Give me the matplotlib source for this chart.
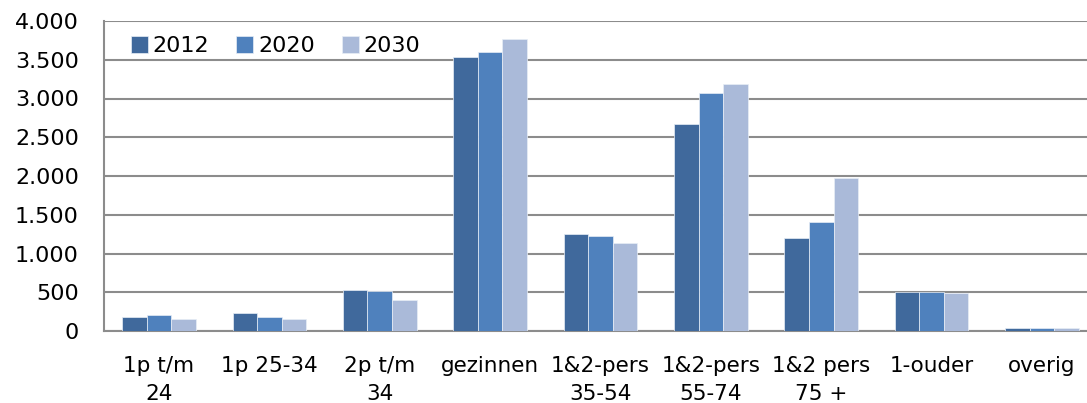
import matplotlib
matplotlib.use("Agg")
import matplotlib.pyplot as plt
import numpy as np
from matplotlib.ticker import FuncFormatter

categories = ["1p t/m\n24", "1p 25-34", "2p t/m\n34", "gezinnen", "1&2-pers\n35-54",
              "1&2-pers\n55-74", "1&2 pers\n75 +", "1-ouder", "overig"]
years = ["2012", "2020", "2030"]
v2012 = [180, 232, 529, 3535, 1252, 2665, 1196, 507, 35]
v2020 = [206, 180, 510, 3606, 1226, 3065, 1410, 507, 35]
v2030 = [155, 155, 400, 3774, 1135, 3187, 1978, 486, 35]
colors = ["#40699C", "#4F81BD", "#AABAD9"]

plt.rcParams['font.family'] = ['DejaVu Sans']
fig = plt.figure(figsize=(10.87, 4.03), dpi=100)
ax = fig.add_axes([103.8/1087, (403-331)/403, 993.4/1087, 310/403])

x = np.arange(len(categories))
w = 0.667/3
for i, (vals, lab, c) in enumerate(zip([v2012, v2020, v2030], years, colors)):
    ax.bar(x + (i-1)*w, vals, width=w, color=c, label=lab, edgecolor="#E8EEF6", linewidth=0.5, zorder=3)

ax.set_xlim(-0.5, len(categories)-0.5)
ax.set_ylim(0, 4000)
ax.set_yticks(np.arange(0, 4001, 500))
ax.yaxis.set_major_formatter(FuncFormatter(lambda v, p: f"{int(v):,}".replace(",", ".")))
ax.grid(axis="y", color="#8C8C8C", linewidth=1.5, zorder=0)
ax.set_xticks(x)
ax.set_xticklabels(categories, linespacing=1.5, va="top", fontsize=15.5)
ax.tick_params(axis="y", length=0, labelsize=16, colors="black", pad=18)
ax.tick_params(axis="x", length=0, colors="black", pad=18)
for s in ["top", "right"]:
    ax.spines[s].set_visible(False)
ax.spines["left"].set_color("#8C8C8C")
ax.spines["left"].set_linewidth(1.5)
ax.spines["bottom"].set_color("#8C8C8C")
ax.spines["bottom"].set_linewidth(1.5)

ax.legend(loc="center left", bbox_to_anchor=(27/993.4, (331-46)/310), ncol=3, frameon=False,
          fontsize=16, handlelength=0.77, handleheight=0.77, handletextpad=0.22,
          columnspacing=1.2, borderpad=0, borderaxespad=0)

fig.savefig("out.png", dpi=100)
